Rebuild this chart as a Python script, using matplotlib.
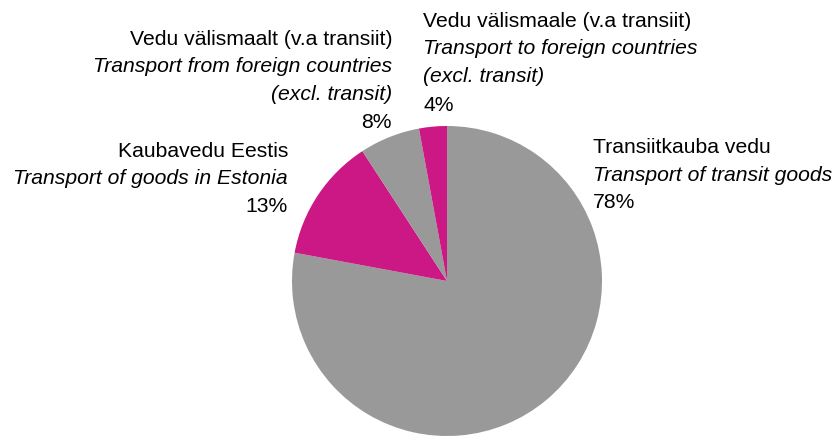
import matplotlib
matplotlib.use("Agg")
import matplotlib.pyplot as plt

# shares of freight transport (order: clockwise from top)
categories = ["Transiitkauba vedu", "Kaubavedu Eestis",
              "Vedu välismaalt (v.a transiit)", "Vedu välismaale (v.a transiit)"]
shares = [78.0, 12.9, 6.3, 2.9]
pct_labels = ["78%", "13%", "8%", "4%"]
colors = ["#999999", "#CC1884", "#999999", "#CC1884"]

plt.rcParams['font.family'] = ['Liberation Sans', 'DejaVu Sans']

W, H = 838, 436
fig = plt.figure(figsize=(W / 100, H / 100), dpi=100)

# pie axes placed in pixel terms: center (447, 281), radius 155
cx, cy, r = 447, 281, 155
ax = fig.add_axes([(cx - r) / W, (H - cy - r) / H, 2 * r / W, 2 * r / H])
ax.pie(shares, colors=colors, startangle=90, counterclock=False,
       wedgeprops=dict(linewidth=0))
ax.set_xlim(-1, 1)
ax.set_ylim(-1, 1)
ax.set_axis_off()

FS = 15.2


def put(x, y, s, ha="left", italic=False):
    fig.text(x / W, 1 - y / H, s, ha=ha, va="baseline", fontsize=FS,
             style="italic" if italic else "normal", color="#000000")


# transit goods
put(593, 153, categories[0])
put(593, 181, "Transport of transit goods", italic=True)
put(593, 208, pct_labels[0])

# goods in Estonia
put(288, 157, categories[1], ha="right")
put(288, 184, "Transport of goods in Estonia", ha="right", italic=True)
put(288, 212, pct_labels[1], ha="right")

# from foreign countries
put(392, 45, categories[2], ha="right")
put(392, 72, "Transport from foreign countries", ha="right", italic=True)
put(392, 100, "(excl. transit)", ha="right", italic=True)
put(392, 128, pct_labels[2], ha="right")

# to foreign countries
put(423, 27, categories[3])
put(423, 54, "Transport to foreign countries", italic=True)
put(423, 82, "(excl. transit)", italic=True)
put(423, 111, pct_labels[3])

fig.savefig("out.png", dpi=100)
